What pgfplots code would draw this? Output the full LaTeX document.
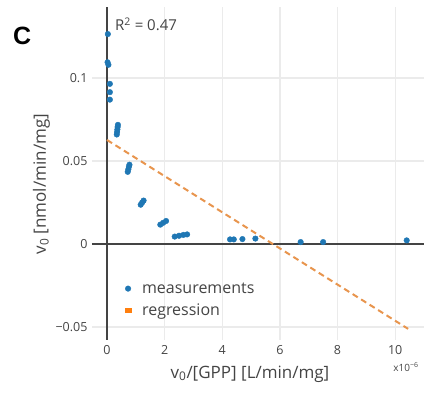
\documentclass[border=0pt]{standalone}
\usepackage{fontspec}
\setmainfont{Open Sans}
\newfontfamily\arialb{Liberation Sans}
\usepackage{pgfplots}
\pgfplotsset{compat=1.18}
\definecolor{txt}{HTML}{444444}
\definecolor{gridc}{HTML}{EBEBEB}
\definecolor{zero}{HTML}{444444}
\definecolor{pblue}{HTML}{1F77B4}
\definecolor{porange}{HTML}{FF7F0E}
\definecolor{dashor}{HTML}{E8954E}
\begin{document}
\begin{tikzpicture}
\path[use as bounding box] (-92pt,-54pt) rectangle (332pt,340pt);
\begin{axis}[
  at={(0pt,0pt)}, anchor=south west,
  scale only axis, width=332pt, height=333pt,
  xmin=-0.52, xmax=11.0, ymin=-0.0578, ymax=0.1428,
  clip=false,
  axis line style={draw=none},
  major tick style={draw=none},
  minor tick style={draw=none},
  xtick={2,4,6,8,10}, xticklabels={2,4,6,8,10},
  ytick={-0.05,0.05,0.1}, yticklabels={−0.05,0.05,0.1},
  extra x ticks={0}, extra x tick labels={0},
  extra y ticks={0}, extra y tick labels={0},
  extra x tick style={grid=major, major grid style={draw=zero, line width=2pt}, tick style={draw=none}},
  extra y tick style={grid=major, major grid style={draw=zero, line width=2pt}, tick style={draw=none}},
  grid=major, major grid style={draw=gridc, line width=1.2pt},
  ticklabel style={font=\fontsize{12.5}{14}\selectfont, text=txt},
  xticklabel style={yshift=-2pt},
  yticklabel style={xshift=-1pt},
  xlabel={v\textsubscript{0}/[GPP] [L/min/mg]},
  xlabel style={at={(axis description cs:0.476,-0.102)}, anchor=center, font=\fontsize{17}{20}\selectfont, text=txt},
  ylabel={v\textsubscript{0} [nmol/min/mg]},
  ylabel style={at={(axis description cs:-0.152,0.468)}, anchor=center, font=\fontsize{17}{20}\selectfont, text=txt},
  legend style={at={(axis description cs:0.084,0.185)}, anchor=north west, draw=none, fill=none,
    font=\fontsize{16}{19}\selectfont, text=txt, row sep=5pt},
  legend cell align=left,
]
\addplot[only marks, mark=*, mark size=2.8pt, color=pblue,
  legend image code/.code={\path (0pt,0pt) (15pt,0pt); \fill[pblue] (4pt,0pt) circle (2.8pt);}]
coordinates {
(0.03,0.1265) (0.02,0.1095) (0.05,0.108)
(0.10,0.0965) (0.10,0.0915) (0.10,0.0870)
(0.38,0.0718) (0.37,0.0705) (0.36,0.0690) (0.35,0.0675) (0.34,0.0660)
(0.78,0.0478) (0.76,0.0465) (0.74,0.0450) (0.72,0.0435)
(1.27,0.0262) (1.22,0.0250) (1.17,0.0237)
(2.05,0.0139) (1.95,0.0128) (1.85,0.0117)
(2.35,0.0045) (2.50,0.0050) (2.65,0.0055) (2.78,0.0058)
(4.27,0.0028) (4.40,0.0028) (4.70,0.0030) (5.15,0.0033)
(6.72,0.0012) (7.50,0.0012) (10.40,0.0022)
};
\addlegendentry{measurements}
\addplot[dashor, line width=2pt, dash pattern=on 6pt off 4pt,
  legend image code/.code={\path (0pt,0pt) (15pt,0pt); \fill[porange,solid,draw=none] (0.5pt,-2.5pt) rectangle (7.5pt,2.5pt);}]
coordinates {(0,0.0627) (10.45,-0.0511)};
\addlegendentry{regression}
\node[anchor=center, font=\arialb\bfseries\fontsize{25}{28}\selectfont] at (axis description cs:-0.21,0.913) {C};
\node[anchor=west, font=\fontsize{15}{18}\selectfont, text=txt, inner sep=0pt] at (axis description cs:0.069,0.949) {R\textsuperscript{2} = 0.47};
\node[anchor=center, font=\fontsize{10}{12}\selectfont, text=txt, inner sep=0pt] at (axis description cs:0.946,-0.081) {x10\textsuperscript{−6}};
\end{axis}
\end{tikzpicture}
\end{document}
